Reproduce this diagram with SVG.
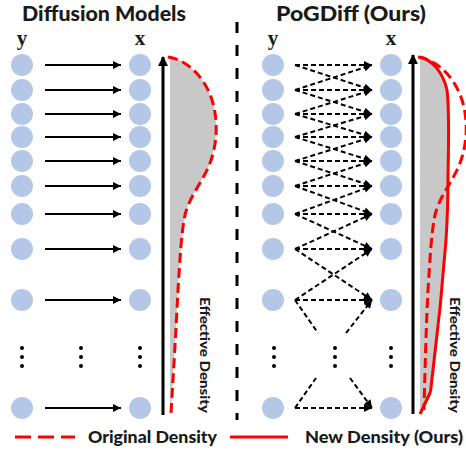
<svg xmlns="http://www.w3.org/2000/svg" width="466" height="451" viewBox="0 0 466 451">
<style>
.node{fill:#b4c7e7}
.t{font-family:Lato,"Liberation Sans",sans-serif;font-weight:900;fill:#1a1a1a}
.v{font-family:"Liberation Serif",serif;font-weight:700;font-size:21px;fill:#1a1a1a;text-anchor:middle}
.ar{stroke:#000;stroke-width:2;fill:none;marker-end:url(#ah)}
.da{stroke:#000;stroke-width:2;fill:none;stroke-dasharray:5 3;marker-end:url(#ah)}
.dl{stroke:#000;stroke-width:2;fill:none;stroke-dasharray:5 3}
.axis{stroke:#000;stroke-width:3;fill:none;marker-end:url(#ax)}
.dot{fill:#000}
</style>
<defs>
<marker id="ah" viewBox="0 0 10 10" refX="10" refY="5" markerWidth="9" markerHeight="8" markerUnits="userSpaceOnUse" orient="auto"><path d="M0,0 L10,5 L0,10 Z" fill="#000"/></marker>
<marker id="ax" viewBox="0 0 10 10" refX="9" refY="5" markerWidth="11" markerHeight="10" markerUnits="userSpaceOnUse" orient="auto"><path d="M0,0 L10,5 L0,10 Z" fill="#000"/></marker>
</defs>
<rect width="466" height="451" fill="#fff"/>

<text class="t" x="104" y="21" font-size="21" text-anchor="middle" textLength="164" lengthAdjust="spacingAndGlyphs">Diffusion Models</text>
<text class="t" x="351" y="21" font-size="21" text-anchor="middle" textLength="150" lengthAdjust="spacingAndGlyphs">PoGDiff (Ours)</text>

<line x1="237" y1="22" x2="237" y2="420" stroke="#000" stroke-width="3" stroke-dasharray="11 12"/>

<text class="v" x="22" y="45">y</text>
<text class="v" x="140" y="45">x</text>
<text class="v" x="273" y="45">y</text>
<text class="v" x="391" y="45">x</text>

<g id="density-left">
<path d="M170,57 C188,60 205,78 212,100 C219,122 217,148 208,168 C200,185 189,198 185,215 C181,235 180,260 178,290 C176,330 173,380 171,413 L170,413 Z" fill="#c8c8c8"/>
<path d="M168,57 C188,60 205,78 212,100 C219,122 217,148 208,168 C200,185 189,198 185,215 C181,235 180,260 178,290 C176,330 173,380 171,413" fill="none" stroke="#ff0000" stroke-width="3" stroke-dasharray="10 5"/>
<line class="axis" x1="163" y1="415" x2="163" y2="57"/>
<text class="t" font-size="14" transform="translate(200,355) rotate(90)" text-anchor="middle" textLength="116" lengthAdjust="spacingAndGlyphs">Effective Density</text>
</g>
<g id="density-right">
<path d="M420,57 C432,60 443,72 447,90 C449,105 449,130 448,175 C448,200 447,225 446,240 C443,280 438,330 433,370 C431,385 431,392 430,393 L420,414 Z" fill="#c8c8c8"/>
<path d="M418,57 C438,60 455,78 462,100 C469,122 467,148 458,168 C450,185 439,198 435,215 C431,235 430,260 428,290 C426,330 425,370 424,410" fill="none" stroke="#ff0000" stroke-width="3" stroke-dasharray="10 5"/>
<path d="M420,57 C432,60 443,72 447,90 C449,105 449,130 448,175 C448,200 447,225 446,240 C443,280 438,330 433,370 C431,385 431,392 430,393 L420,414" fill="none" stroke="#ff0000" stroke-width="3"/>
<line class="axis" x1="413" y1="414" x2="413" y2="55"/>
<text class="t" font-size="14" transform="translate(450,355) rotate(90)" text-anchor="middle" textLength="116" lengthAdjust="spacingAndGlyphs">Effective Density</text>
</g>

<g id="ly1"><circle class="node" cx="22" cy="65" r="11"/></g>
<g id="ly2"><circle class="node" cx="22" cy="90" r="11"/></g>
<g id="ly3"><circle class="node" cx="22" cy="114" r="11"/></g>
<g id="ly4"><circle class="node" cx="22" cy="137" r="11"/></g>
<g id="ly5"><circle class="node" cx="22" cy="161" r="11"/></g>
<g id="ly6"><circle class="node" cx="22" cy="186" r="11"/></g>
<g id="ly7"><circle class="node" cx="22" cy="214" r="11"/></g>
<g id="ly8"><circle class="node" cx="22" cy="249" r="11"/></g>
<g id="ly9"><circle class="node" cx="22" cy="300" r="11"/></g>
<g id="ly10"><circle class="node" cx="22" cy="408" r="11"/></g>
<g id="lx1"><circle class="node" cx="140" cy="65" r="11"/></g>
<g id="lx2"><circle class="node" cx="140" cy="90" r="11"/></g>
<g id="lx3"><circle class="node" cx="140" cy="114" r="11"/></g>
<g id="lx4"><circle class="node" cx="140" cy="137" r="11"/></g>
<g id="lx5"><circle class="node" cx="140" cy="161" r="11"/></g>
<g id="lx6"><circle class="node" cx="140" cy="186" r="11"/></g>
<g id="lx7"><circle class="node" cx="140" cy="214" r="11"/></g>
<g id="lx8"><circle class="node" cx="140" cy="249" r="11"/></g>
<g id="lx9"><circle class="node" cx="140" cy="300" r="11"/></g>
<g id="lx10"><circle class="node" cx="140" cy="408" r="11"/></g>
<g id="ry1"><circle class="node" cx="273" cy="65" r="11"/></g>
<g id="ry2"><circle class="node" cx="273" cy="90" r="11"/></g>
<g id="ry3"><circle class="node" cx="273" cy="114" r="11"/></g>
<g id="ry4"><circle class="node" cx="273" cy="137" r="11"/></g>
<g id="ry5"><circle class="node" cx="273" cy="161" r="11"/></g>
<g id="ry6"><circle class="node" cx="273" cy="186" r="11"/></g>
<g id="ry7"><circle class="node" cx="273" cy="214" r="11"/></g>
<g id="ry8"><circle class="node" cx="273" cy="249" r="11"/></g>
<g id="ry9"><circle class="node" cx="273" cy="300" r="11"/></g>
<g id="ry10"><circle class="node" cx="273" cy="408" r="11"/></g>
<g id="rx1"><circle class="node" cx="391" cy="65" r="11"/></g>
<g id="rx2"><circle class="node" cx="391" cy="90" r="11"/></g>
<g id="rx3"><circle class="node" cx="391" cy="114" r="11"/></g>
<g id="rx4"><circle class="node" cx="391" cy="137" r="11"/></g>
<g id="rx5"><circle class="node" cx="391" cy="161" r="11"/></g>
<g id="rx6"><circle class="node" cx="391" cy="186" r="11"/></g>
<g id="rx7"><circle class="node" cx="391" cy="214" r="11"/></g>
<g id="rx8"><circle class="node" cx="391" cy="249" r="11"/></g>
<g id="rx9"><circle class="node" cx="391" cy="300" r="11"/></g>
<g id="rx10"><circle class="node" cx="391" cy="408" r="11"/></g>

<g id="ellipses">
<circle class="dot" cx="22" cy="348" r="2"/><circle class="dot" cx="22" cy="357" r="2"/><circle class="dot" cx="22" cy="366" r="2"/>
<circle class="dot" cx="81" cy="348" r="2"/><circle class="dot" cx="81" cy="357" r="2"/><circle class="dot" cx="81" cy="366" r="2"/>
<circle class="dot" cx="140" cy="348" r="2"/><circle class="dot" cx="140" cy="357" r="2"/><circle class="dot" cx="140" cy="366" r="2"/>
<circle class="dot" cx="274" cy="348" r="2"/><circle class="dot" cx="274" cy="357" r="2"/><circle class="dot" cx="274" cy="366" r="2"/>
<circle class="dot" cx="335" cy="348" r="2"/><circle class="dot" cx="335" cy="357" r="2"/><circle class="dot" cx="335" cy="366" r="2"/>
<circle class="dot" cx="391" cy="348" r="2"/><circle class="dot" cx="391" cy="357" r="2"/><circle class="dot" cx="391" cy="366" r="2"/>
</g>

<g id="connectors">
<line class="ar" x1="45" y1="65" x2="121" y2="65"/>
<line class="ar" x1="45" y1="90" x2="121" y2="90"/>
<line class="ar" x1="45" y1="114" x2="121" y2="114"/>
<line class="ar" x1="45" y1="137" x2="121" y2="137"/>
<line class="ar" x1="45" y1="161" x2="121" y2="161"/>
<line class="ar" x1="45" y1="186" x2="121" y2="186"/>
<line class="ar" x1="45" y1="214" x2="121" y2="214"/>
<line class="ar" x1="45" y1="249" x2="121" y2="249"/>
<line class="ar" x1="45" y1="300" x2="121" y2="300"/>
<line class="ar" x1="45" y1="408" x2="121" y2="408"/>

<line class="da" x1="295" y1="65" x2="372" y2="65"/>
<line class="da" x1="295" y1="90" x2="372" y2="90"/>
<line class="da" x1="295" y1="114" x2="372" y2="114"/>
<line class="da" x1="295" y1="137" x2="372" y2="137"/>
<line class="da" x1="295" y1="161" x2="372" y2="161"/>
<line class="da" x1="295" y1="186" x2="372" y2="186"/>
<line class="da" x1="295" y1="214" x2="372" y2="214"/>
<line class="da" x1="295" y1="249" x2="372" y2="249"/>
<line class="da" x1="295" y1="300" x2="372" y2="300"/>
<line class="da" x1="295" y1="408" x2="372" y2="408"/>

<line class="da" x1="295" y1="65" x2="372" y2="90"/>
<line class="da" x1="295" y1="90" x2="372" y2="65"/>
<line class="da" x1="295" y1="90" x2="372" y2="114"/>
<line class="da" x1="295" y1="114" x2="372" y2="90"/>
<line class="da" x1="295" y1="114" x2="372" y2="137"/>
<line class="da" x1="295" y1="137" x2="372" y2="114"/>
<line class="da" x1="295" y1="137" x2="372" y2="161"/>
<line class="da" x1="295" y1="161" x2="372" y2="137"/>
<line class="da" x1="295" y1="161" x2="372" y2="186"/>
<line class="da" x1="295" y1="186" x2="372" y2="161"/>
<line class="da" x1="295" y1="186" x2="372" y2="214"/>
<line class="da" x1="295" y1="214" x2="372" y2="186"/>
<line class="da" x1="295" y1="214" x2="372" y2="249"/>
<line class="da" x1="295" y1="249" x2="372" y2="214"/>
<line class="da" x1="295" y1="249" x2="372" y2="300"/>
<line class="da" x1="295" y1="300" x2="372" y2="249"/>

<line class="dl" x1="295" y1="300" x2="318" y2="333"/>
<line class="da" x1="346" y1="333" x2="372" y2="300"/>
<line class="dl" x1="295" y1="408" x2="316" y2="378"/>
<line class="da" x1="350" y1="378" x2="372" y2="408"/>
</g>

<g id="legend">
<line x1="15" y1="437" x2="75" y2="437" stroke="#ff0000" stroke-width="3" stroke-dasharray="16 7"/>
<text class="t" x="88" y="443" font-size="16" textLength="129" lengthAdjust="spacingAndGlyphs">Original Density</text>
<line x1="230" y1="437" x2="288" y2="437" stroke="#ff0000" stroke-width="3"/>
<text class="t" x="305" y="443" font-size="16" textLength="158" lengthAdjust="spacingAndGlyphs">New Density (Ours)</text>
</g>
</svg>
